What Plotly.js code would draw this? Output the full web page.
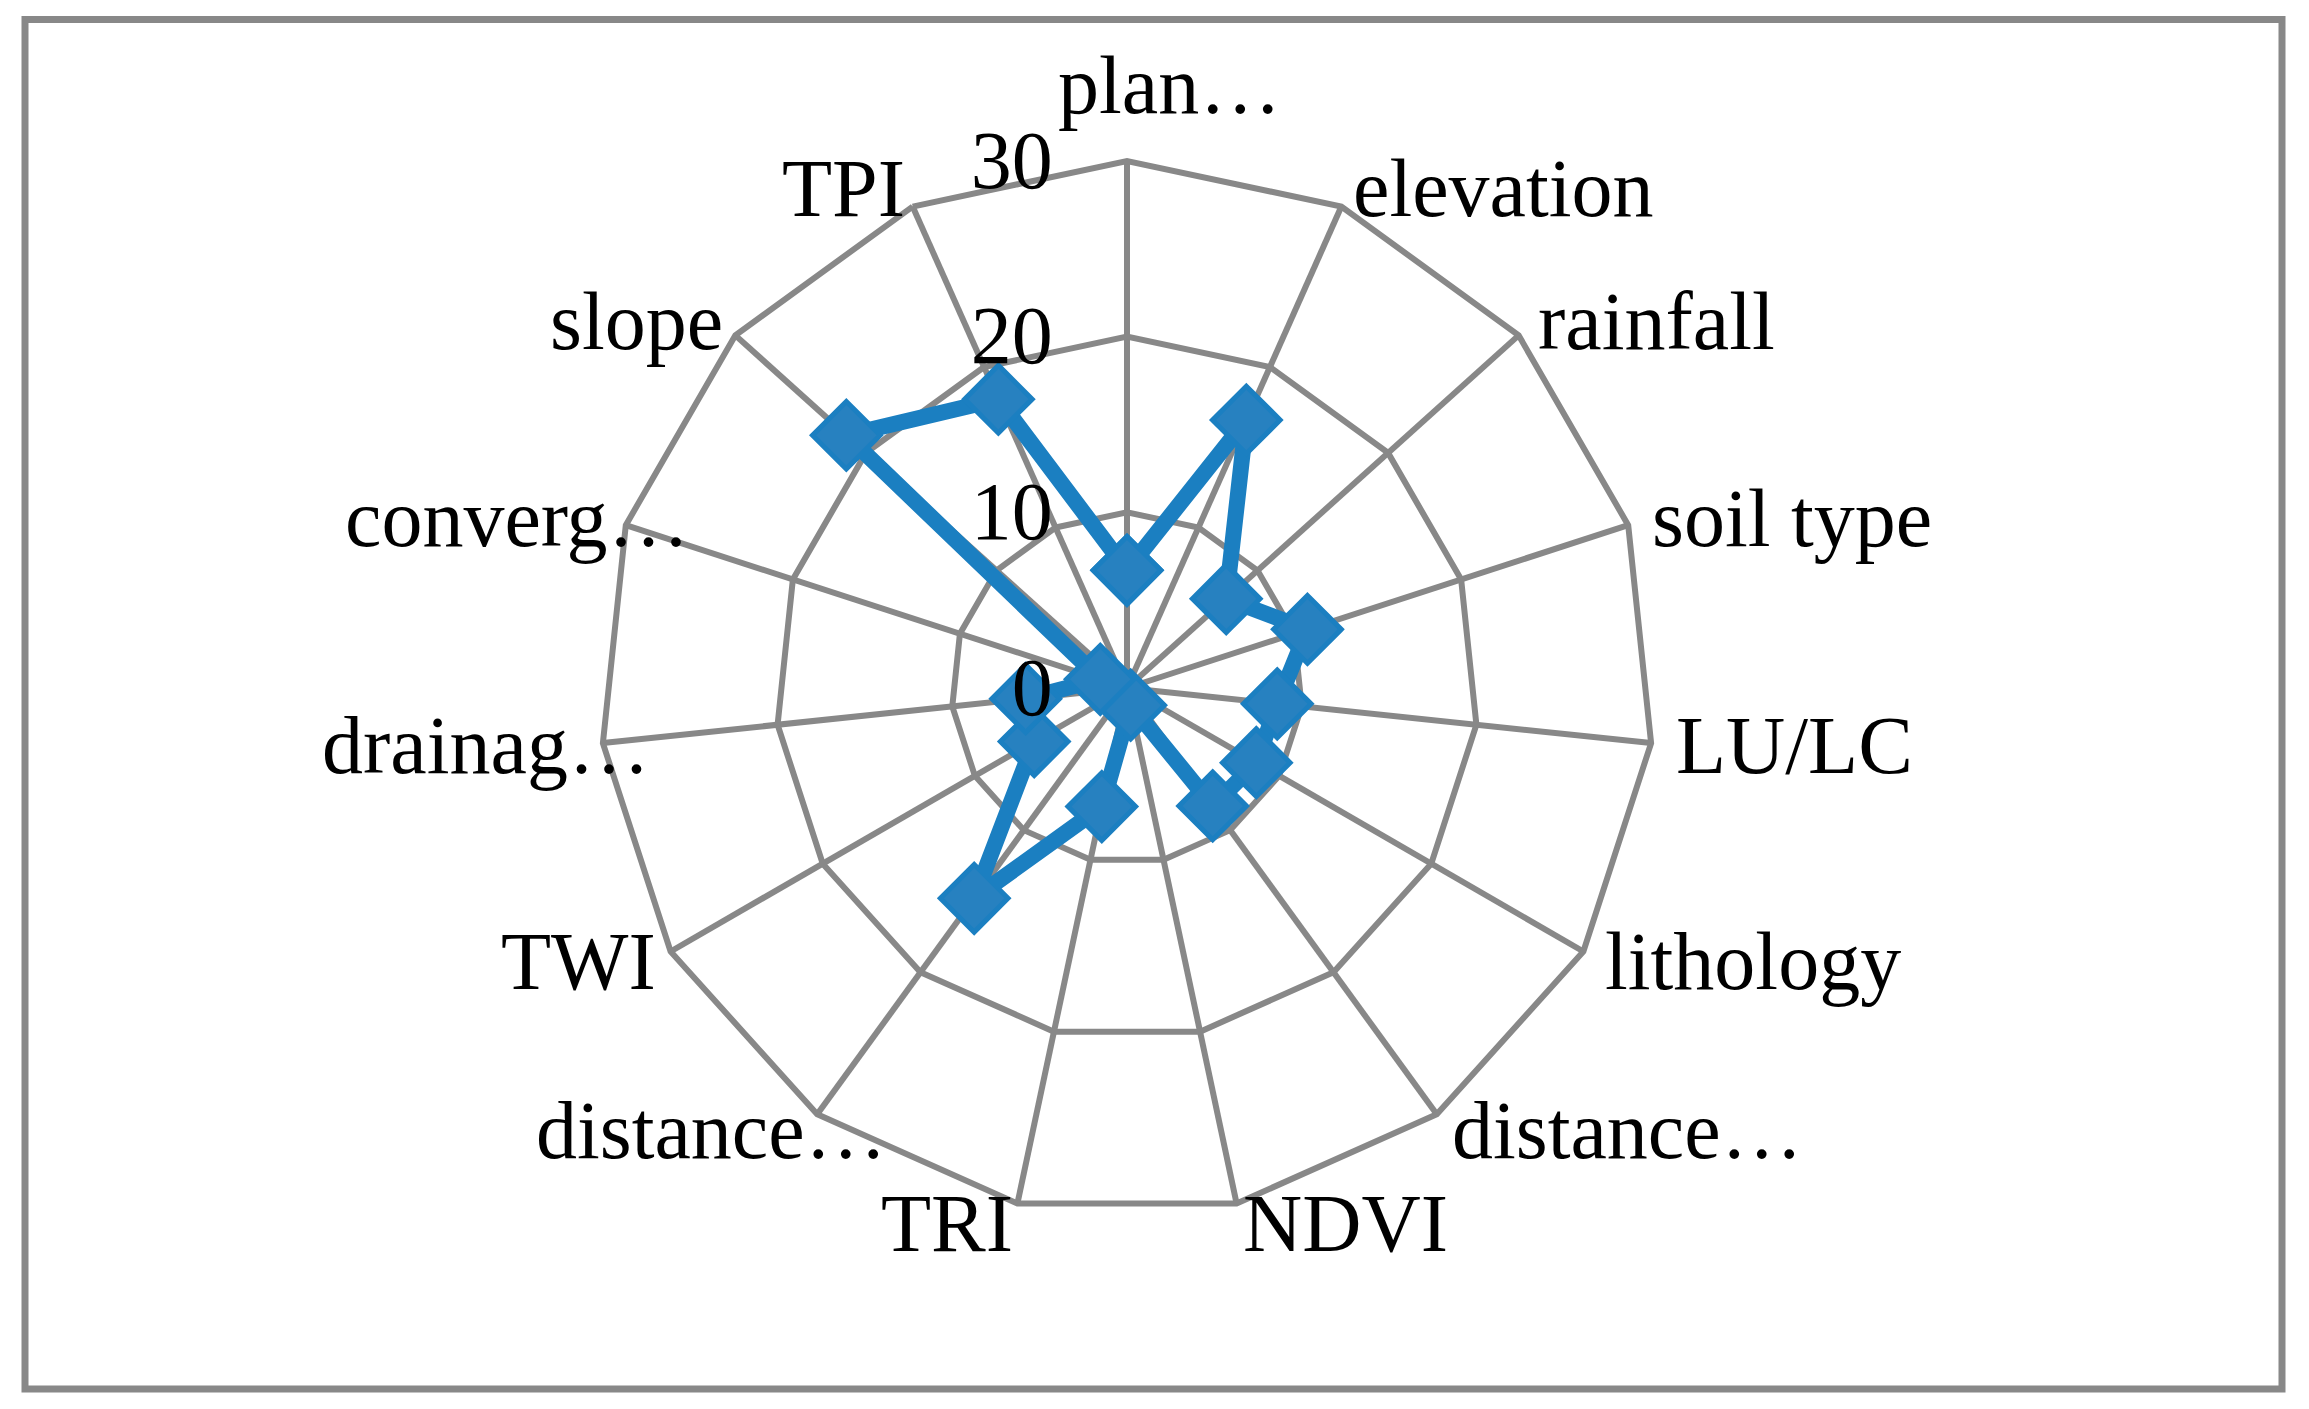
<!DOCTYPE html>
<html>
<head>
<meta charset="utf-8">
<script src="https://cdn.plot.ly/plotly-3.0.1.min.js"></script>
<style>html,body{margin:0;padding:0;background:#fff;}#chart{width:2309px;height:1409px;}</style>
</head>
<body>
<div id="chart"></div>
<script>
// Categories clockwise from the top (the second "distance…" carries a zero-width space so the two stay distinct)
var categories = ["plan…", "elevation", "rainfall", "soil type", "LU/LC", "lithology", "distance…", "NDVI", "TRI", "distance…\u200b", "TWI", "drainag…", "converg…", "slope", "TPI"];
var values = [6.7, 16.7, 7.6, 10.8, 8.6, 8.5, 8.3, 1.0, 6.9, 14.8, 6.1, 5.8, 1.6, 21.5, 18.0];
var radialTicks = [0, 10, 20, 30];

var rClosed = values.concat([values[0]]);
var tClosed = categories.concat([categories[0]]);

var W = 2309, H = 1409;
var cx = 1127, cy = 688, R = 527;
var fontFam = '"Liberation Serif", "DejaVu Serif", serif';
var fontSize = 82;

var trace = {
  type: 'scatterpolar',
  r: rClosed,
  theta: tClosed,
  mode: 'lines+markers',
  line: {color: '#1b7fc1', width: 16},
  marker: {symbol: 'diamond', size: 52, color: '#2781c0', line: {color: '#1b7fc1', width: 5}},
  cliponaxis: false,
  hoverinfo: 'skip'
};

// Category labels placed Excel-style beside each outer vertex of the polygon.
// Truncated labels ("…") sit in a fixed-width box with left-aligned text.
var n = categories.length;
var boxW = 283;
var annotations = categories.map(function (c, i) {
  var a = i * 2 * Math.PI / n;
  var s = Math.sin(a), co = Math.cos(a);
  var px = cx + R * s, py = cy - R * co;
  var truncated = c.indexOf('…') >= 0;
  var ann = {
    text: c, showarrow: false, xref: 'paper', yref: 'paper',
    x: px / W, y: 1 - py / H,
    font: {family: fontFam, size: fontSize, color: '#000'},
    yanchor: 'middle', yshift: 20 * co
  };
  if (Math.abs(s) < 1e-6) {
    ann.yanchor = co > 0 ? 'bottom' : 'top';
    ann.yshift = co > 0 ? 28 : -10;
    if (truncated) { ann.xanchor = 'left'; ann.xshift = -71; } else { ann.xanchor = 'center'; }
  } else if (s > 0) {
    ann.xanchor = 'left'; ann.xshift = 23 * s;
  } else if (truncated) {
    ann.xanchor = 'left'; ann.xshift = -boxW;
  } else {
    ann.xanchor = 'right'; ann.xshift = 14 * s;
  }
  return ann;
});

var layout = {
  width: W, height: H,
  margin: {l: 0, r: 0, t: 0, b: 0},
  paper_bgcolor: '#ffffff',
  showlegend: false,
  font: {family: fontFam, size: fontSize, color: '#000'},
  polar: {
    domain: {x: [(cx - R) / W, (cx + R) / W], y: [(H - cy - R) / H, (H - cy + R) / H]},
    bgcolor: 'rgba(0,0,0,0)',
    gridshape: 'linear',
    angularaxis: {
      type: 'category',
      rotation: 90,
      direction: 'clockwise',
      ticks: '',
      showticklabels: false,
      showline: true,
      linecolor: '#888888',
      linewidth: 6,
      gridcolor: '#888888',
      gridwidth: 6,
      layer: 'below traces'
    },
    radialaxis: {
      range: [0, 30],
      tickmode: 'array',
      tickvals: radialTicks,
      ticktext: radialTicks.map(String),
      angle: 90,
      tickangle: 90,
      side: 'counterclockwise',
      showline: false,
      ticks: 'outside',
      ticklen: 45,
      tickcolor: 'rgba(0,0,0,0)',
      gridcolor: '#888888',
      gridwidth: 6,
      layer: 'above traces',
      tickfont: {family: fontFam, size: fontSize, color: '#000'}
    }
  },
  annotations: annotations,
  shapes: [{
    type: 'rect', xref: 'paper', yref: 'paper',
    x0: 25 / W, x1: 2282 / W, y0: 1 - 1389 / H, y1: 1 - 19.5 / H,
    line: {color: '#888888', width: 7}
  }]
};

Plotly.newPlot('chart', [trace], layout, {displayModeBar: false, staticPlot: true});
</script>
</body>
</html>
